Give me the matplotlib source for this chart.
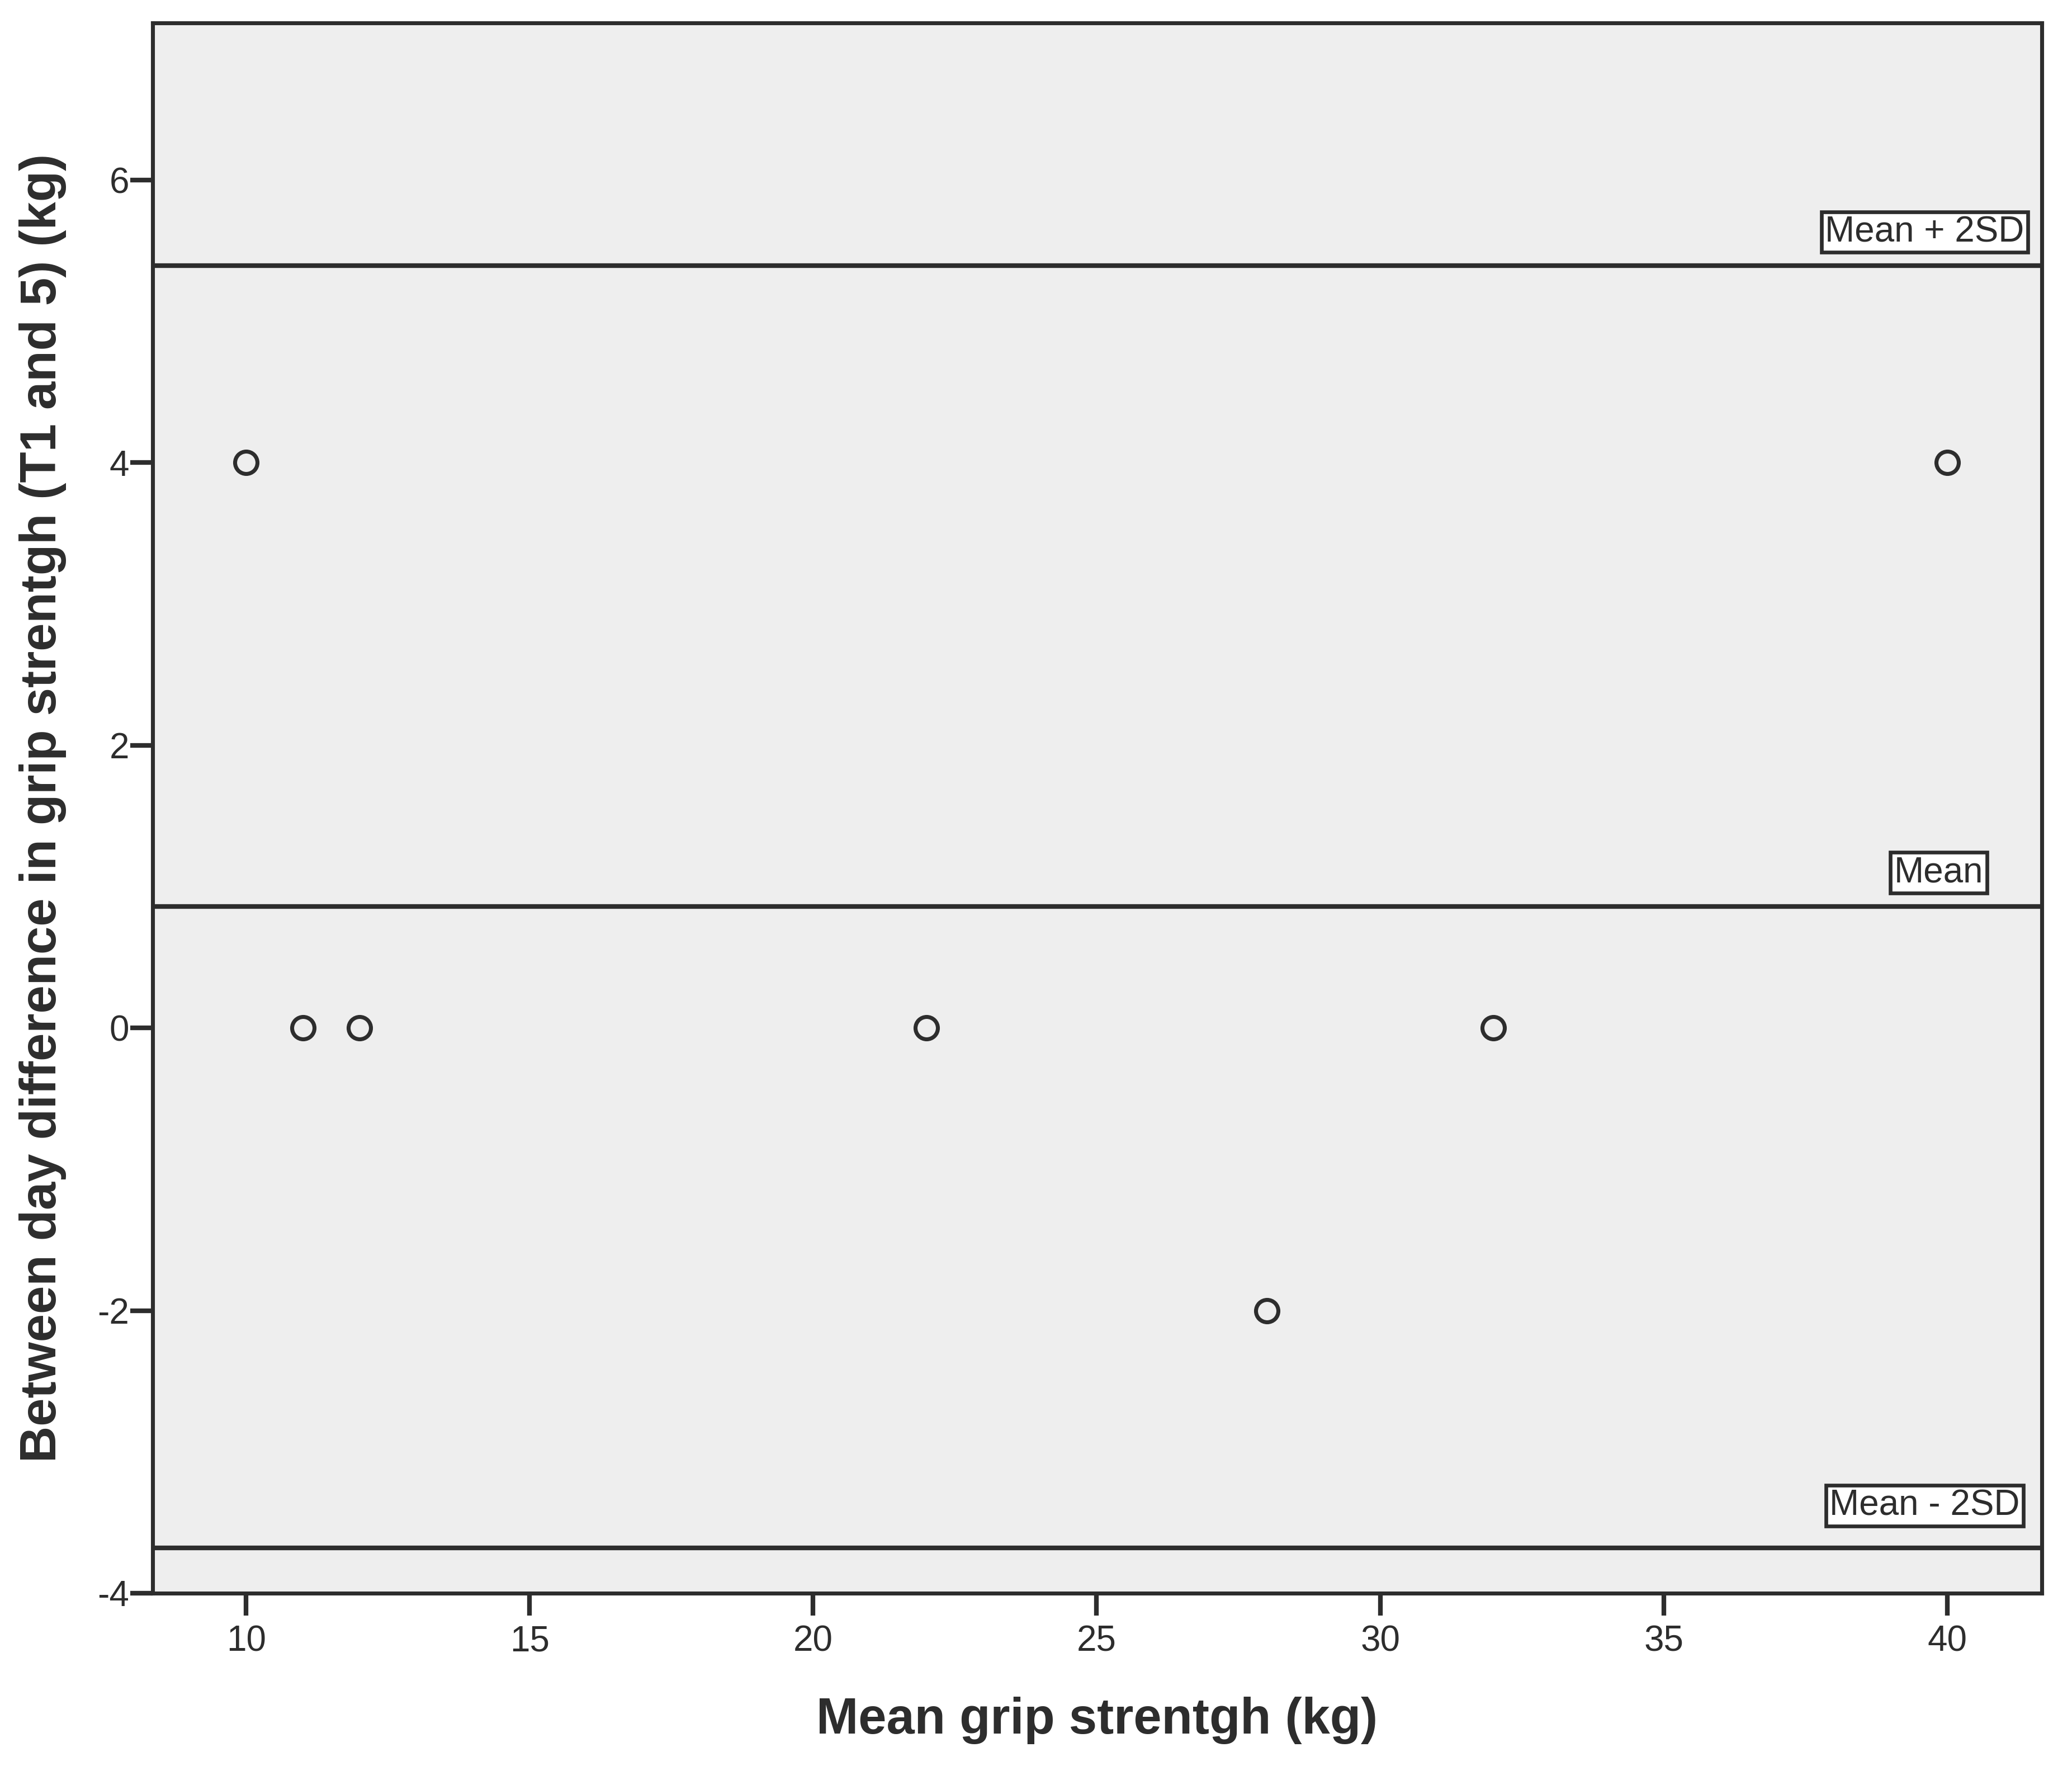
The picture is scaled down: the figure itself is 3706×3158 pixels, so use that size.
import numpy as np
import matplotlib
matplotlib.use("Agg")
import matplotlib.pyplot as plt

# Bland-Altman style data: mean grip strength vs between-day difference
mean_grip = [10, 11, 12, 22, 28, 32, 40]
diff_grip = [4, 0, 0, 0, -2, 0, 4]

ref_labels = ["Mean + 2SD", "Mean", "Mean - 2SD"]
x_ticks = [10, 15, 20, 25, 30, 35, 40]
y_ticks = [-4, -2, 0, 2, 4, 6]

d = np.array(diff_grip, dtype=float)
m = d.mean()
sd = d.std(ddof=1)
ref_values = [m + 2 * sd, m, m - 2 * sd]

# label layout (x centre in data units, baseline offset above line in points)
label_x = [39.6, 39.85, 39.6]
label_dy = [10.3, 10.5, 13.9]

dark = "#2d2d2d"
plt.rcParams["font.family"] = ["Liberation Sans", "DejaVu Sans"]

fig = plt.figure(figsize=(3706 / 300, 3158 / 300), dpi=300)
ax = fig.add_axes([273 / 3706, 1 - 2849 / 3158, (3652 - 273) / 3706, (2849 - 41) / 3158])
ax.set_facecolor("#eeeeee")

for v in ref_values:
    ax.axhline(v, color=dark, lw=2.0, zorder=2)

ax.plot(mean_grip, diff_grip, linestyle="none", marker="o", markersize=9.6,
        markerfacecolor="none", markeredgecolor=dark, markeredgewidth=1.7, zorder=3)

for lab, v, lx, dy in zip(ref_labels, ref_values, label_x, label_dy):
    ax.annotate(lab, xy=(lx, v), xytext=(0, dy), textcoords="offset points",
                ha="center", va="baseline", fontsize=15.3, color=dark,
                bbox=dict(boxstyle="square,pad=0.1", facecolor="white",
                          edgecolor=dark, linewidth=1.6), zorder=4)

ax.set_xlim(8.35, 41.67)
ax.set_ylim(-4, 7.11)
ax.set_xticks(x_ticks)
ax.set_yticks(y_ticks)
ax.set_yticklabels([str(t) for t in y_ticks])

for s in ax.spines.values():
    s.set_color(dark)
    s.set_linewidth(1.7)
ax.tick_params(axis="both", direction="out", length=9.6, width=2.0, color=dark,
               labelsize=15.3, labelcolor=dark)
ax.tick_params(axis="y", pad=0.5)
ax.tick_params(axis="x", pad=4)

ax.set_xlabel("Mean grip strentgh (kg)", fontsize=21.7, fontweight="bold", color=dark)
ax.set_ylabel("Between day difference in grip strentgh (T1 and 5) (kg)",
              fontsize=21.7, fontweight="bold", color=dark)
ax.xaxis.set_label_coords(0.5, -0.0660)
ax.yaxis.set_label_coords(-0.0456, 0.5)

fig.savefig("out.png", dpi=300, facecolor="white")
